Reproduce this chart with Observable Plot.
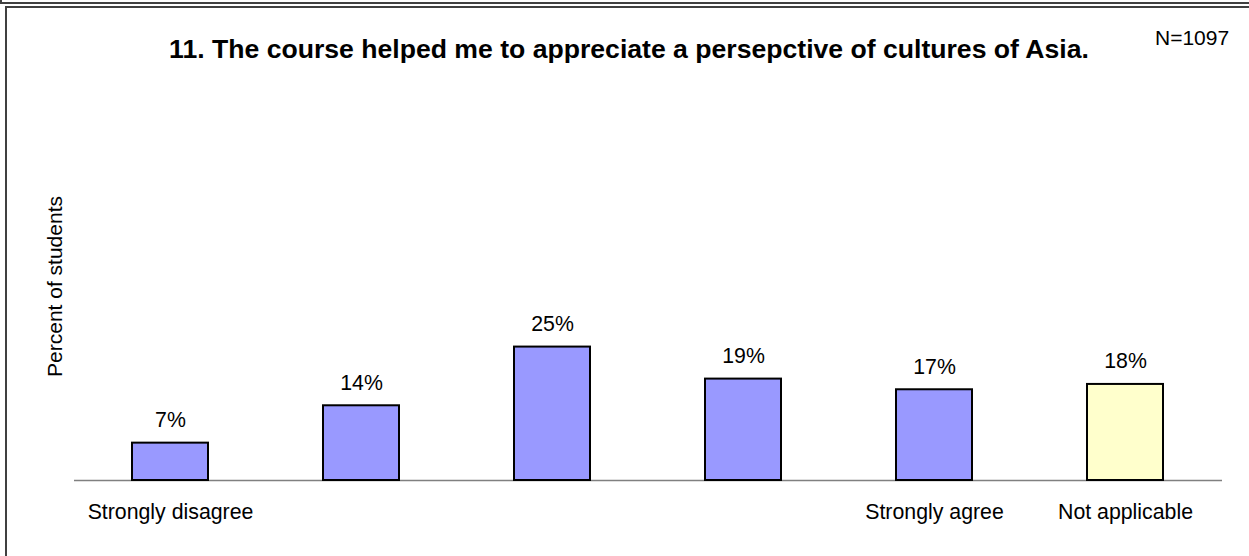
<!DOCTYPE html>
<html><head><meta charset="utf-8">
<script src="https://cdn.jsdelivr.net/npm/d3@7"></script>
<script src="https://cdn.jsdelivr.net/npm/@observablehq/plot@0.6"></script>
<style>
body{margin:0;background:#fff;font-family:"Liberation Sans",Arial,sans-serif;color:#000;}
#wrap{position:relative;width:1249px;height:556px;overflow:hidden;}
.line{position:absolute;background:#404040;}
#head{position:relative;height:70px;}
#title{position:absolute;left:0;width:1258px;text-align:center;top:36px;font-weight:bold;font-size:26.6px;line-height:26.6px;white-space:nowrap;}
#n{position:absolute;left:1155px;top:27px;font-size:21px;line-height:21px;white-space:nowrap;}
#chart svg{display:block;}
</style>
</head><body>
<div id="wrap">
  <div class="line" style="left:0;top:2px;width:1249px;height:1.5px"></div>
  <div class="line" style="left:0;top:0;width:1.5px;height:3px"></div>
  <div class="line" style="left:5px;top:6px;width:1244px;height:2px"></div>
  <div class="line" style="left:5px;top:6px;width:2px;height:550px"></div>
  <div id="head">
    <div id="title">11. The course helped me to appreciate a persepctive of cultures of Asia.</div>
    <div id="n">N=1097</div>
  </div>
  <div id="chart"></div>
</div>
<script>
const categories = ["Strongly disagree", "Disagree", "Neutral", "Agree", "Strongly agree", "Not applicable"];
const tickLabels = ["Strongly disagree", "", "", "", "Strongly agree", "Not applicable"];
const percents = [7, 14, 25, 19, 17, 18];
const valueLabels = ["7%", "14%", "25%", "19%", "17%", "18%"];
const groups = ["scale", "scale", "scale", "scale", "scale", "na"];
const yAxisLabel = "Percent of students";

const data = categories.map((c, i) => ({category: c, value: percents[i], label: valueLabels[i], group: groups[i]}));

const chart = Plot.plot({
  width: 1249,
  height: 486,
  marginLeft: 74,
  marginRight: 27,
  marginTop: 22,
  marginBottom: 76,
  style: {fontFamily: '"Liberation Sans", Arial, sans-serif', fontSize: "21px", color: "#000", background: "transparent"},
  x: {domain: categories, paddingInner: 0.6, paddingOuter: 0.3},
  y: {domain: [0, 72.7], axis: null},
  color: {domain: ["scale", "na"], range: ["#9999ff", "#ffffcc"]},
  marks: [
    Plot.ruleY([0], {stroke: "#808080", strokeWidth: 1.5}),
    Plot.barY(data, {x: "category", y: "value", fill: "group", stroke: "#000", strokeWidth: 2}),
    Plot.text(data, {x: "category", y: "value", text: "label", dy: -23, fontSize: 21.3, fill: "#000"}),
    Plot.axisX({tickSize: 0, tickPadding: 23, label: null, fontSize: 21.3,
      tickFormat: d => tickLabels[categories.indexOf(d)]}),
    Plot.text([yAxisLabel], {frameAnchor: "left", textAnchor: "middle", rotate: -90, dx: -19, fontSize: 21, fill: "#000"})
  ]
});
document.getElementById("chart").appendChild(chart);
</script>
</body></html>
